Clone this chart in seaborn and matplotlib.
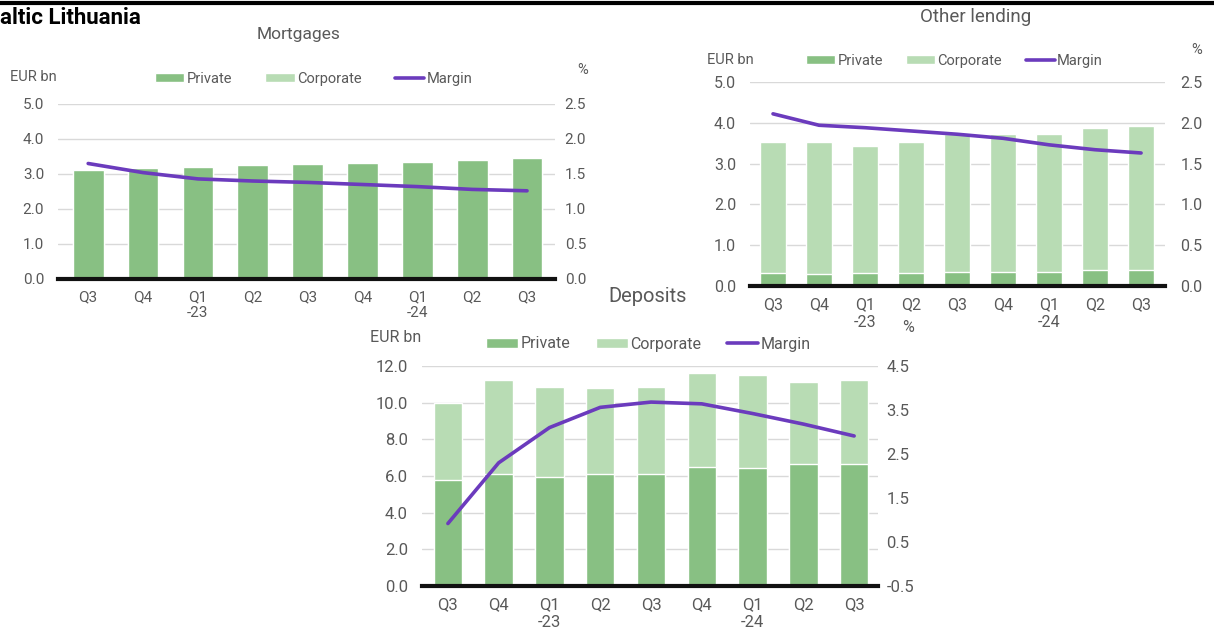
import matplotlib
matplotlib.use("Agg")
import matplotlib.pyplot as plt
import seaborn as sns
import pandas as pd
import numpy as np
from matplotlib.patches import Patch
from matplotlib.lines import Line2D

sns.set_theme(style="white")
plt.rcParams['font.family'] = ['Roboto', 'DejaVu Sans']

quarters = ["Q3", "Q4", "Q1\n-23", "Q2", "Q3 ", "Q4 ", "Q1\n-24", "Q2 ", "Q3  "]
tick_labels = ["Q3", "Q4", "Q1\n-23", "Q2", "Q3", "Q4", "Q1\n-24", "Q2", "Q3"]

mort_private = [3.10, 3.17, 3.21, 3.25, 3.28, 3.31, 3.33, 3.39, 3.45]
mort_corporate = [0, 0, 0, 0, 0, 0, 0, 0, 0]
mort_margin = [1.65, 1.52, 1.43, 1.40, 1.38, 1.35, 1.32, 1.28, 1.26]

oth_private = [0.31, 0.30, 0.31, 0.33, 0.35, 0.35, 0.35, 0.38, 0.38]
oth_corporate = [3.21, 3.22, 3.11, 3.19, 3.37, 3.38, 3.37, 3.49, 3.55]
oth_margin = [2.11, 1.97, 1.94, 1.90, 1.86, 1.81, 1.73, 1.67, 1.63]

dep_private = [5.78, 6.12, 5.96, 6.12, 6.12, 6.50, 6.45, 6.65, 6.66]
dep_corporate = [4.20, 5.12, 4.88, 4.68, 4.74, 5.10, 5.04, 4.48, 4.58]
dep_margin = [0.92, 2.30, 3.10, 3.56, 3.68, 3.64, 3.42, 3.18, 2.91]

C_PRIV = "#88c083"
C_CORP = "#b8dcb4"
C_MARG = "#6b3bbd"
C_TXT = "#595959"
C_GRID = "#d9d9d9"

W, H = 1214, 629
fig = plt.figure(figsize=(W / 100, H / 100), dpi=100)


def px_axes(x0, x1, ytop, ybot):
    return fig.add_axes([x0 / W, 1 - ybot / H, (x1 - x0) / W, (ybot - ytop) / H])


def panel(x0, x1, ytop, ybot, xlim, private, corporate, margin,
          ylim, yticks, rlim, rticks, title, title_xy, title_fs, eur_xy, pct_xy,
          leg_xy, fs, legfs, colsp, rpad):
    ax = px_axes(x0, x1, ytop, ybot)
    df = pd.DataFrame({"q": quarters,
                       "private": private,
                       "total": np.array(private) + np.array(corporate),
                       "margin": margin})
    sns.barplot(data=df, x="q", y="total", color=C_CORP, width=0.56,
                saturation=1, ax=ax, zorder=2)
    sns.barplot(data=df, x="q", y="private", color=C_PRIV, width=0.56,
                saturation=1, ax=ax, zorder=3)
    ax.set_xlim(*xlim)
    ax.set_ylim(*ylim)
    ax.set_yticks(yticks)
    ax.set_yticklabels([f"{v:.1f}" for v in yticks])
    ax.set_xticks(range(len(tick_labels)))
    ax.set_xticklabels(tick_labels, linespacing=1.2)
    ax.set_xlabel("")
    ax.set_ylabel("")
    for v in yticks:
        ax.axhline(v, color=C_GRID, lw=1, zorder=0)
    for s in ["top", "right", "left"]:
        ax.spines[s].set_visible(False)
    ax.spines["bottom"].set_color("#111111")
    ax.spines["bottom"].set_linewidth(3)
    ax.spines["bottom"].set_zorder(5)
    ax.tick_params(axis="both", length=0, labelsize=fs, colors=C_TXT, pad=10)
    ax.tick_params(axis="x", pad=8)
    ax.set_facecolor("none")

    ax2 = ax.twinx()
    sns.lineplot(data=df, x="q", y="margin", color=C_MARG, lw=2.6, ax=ax2,
                 sort=False, zorder=6)
    ax2.set_ylim(*rlim)
    ax2.set_yticks(rticks)
    ax2.set_yticklabels([f"{v:.1f}" for v in rticks])
    ax2.set_ylabel("")
    ax2.set_xlim(*xlim)
    for s in ["top", "right", "left", "bottom"]:
        ax2.spines[s].set_visible(False)
    ax2.tick_params(axis="y", length=0, labelsize=fs, colors=C_TXT, pad=rpad)
    ax2.grid(False)

    fig.text(title_xy[0] / W, 1 - title_xy[1] / H, title, ha="center",
             va="center", fontsize=title_fs, color=C_TXT)
    fig.text(eur_xy[0] / W, 1 - eur_xy[1] / H, "EUR bn", ha="left",
             va="center", fontsize=legfs, color=C_TXT)
    fig.text(pct_xy[0] / W, 1 - pct_xy[1] / H, "%", ha="center",
             va="center", fontsize=legfs, color=C_TXT)
    handles = [Patch(facecolor=C_PRIV, label="Private"),
               Patch(facecolor=C_CORP, label="Corporate"),
               Line2D([0], [0], color=C_MARG, lw=2.6, label="Margin")]
    fig.legend(handles=handles, loc="center left",
               bbox_to_anchor=(leg_xy[0] / W, 1 - leg_xy[1] / H),
               ncol=3, frameon=False, fontsize=legfs, handlelength=2.0,
               handleheight=0.6, handletextpad=0.15, columnspacing=colsp,
               labelcolor=C_TXT, borderpad=0, borderaxespad=0)
    return ax


panel(58, 555, 104, 279, (-0.55, 8.51), mort_private, mort_corporate,
      mort_margin, (0, 5), [0, 1, 2, 3, 4, 5], (0, 2.5),
      [0, 0.5, 1.0, 1.5, 2.0, 2.5], "Mortgages", (299, 34), 12.5, (10, 77),
      (583, 70), (155, 79), 11, 10.5, 2.3, 7)

panel(750, 1165, 82, 286, (-0.5, 8.52), oth_private, oth_corporate,
      oth_margin, (0, 5), [0, 1, 2, 3, 4, 5], (0, 2.5),
      [0, 0.5, 1.0, 1.5, 2.0, 2.5], "Other lending", (976, 17), 13.5, (707, 60),
      (1197, 50), (806, 61), 11.5, 10.5, 1.6, 11)

panel(422, 878, 366, 586, (-0.51, 8.47), dep_private, dep_corporate,
      dep_margin, (0, 12), [0, 2, 4, 6, 8, 10, 12], (-0.5, 4.5),
      [-0.5, 0.5, 1.5, 2.5, 3.5, 4.5], "Deposits", (648, 296), 14.5, (370, 337),
      (908, 327), (486, 344), 12, 11.5, 1.6, 6)

fig.add_artist(Line2D([0, 1], [1 - 2.5 / H, 1 - 2.5 / H], color="black",
                      lw=3, transform=fig.transFigure))
fig.text(0, 1 - 18 / H, "altic Lithuania", ha="left", va="center",
         fontsize=16, fontweight="bold", color="black")

fig.savefig("out.png", dpi=100, facecolor="white")
